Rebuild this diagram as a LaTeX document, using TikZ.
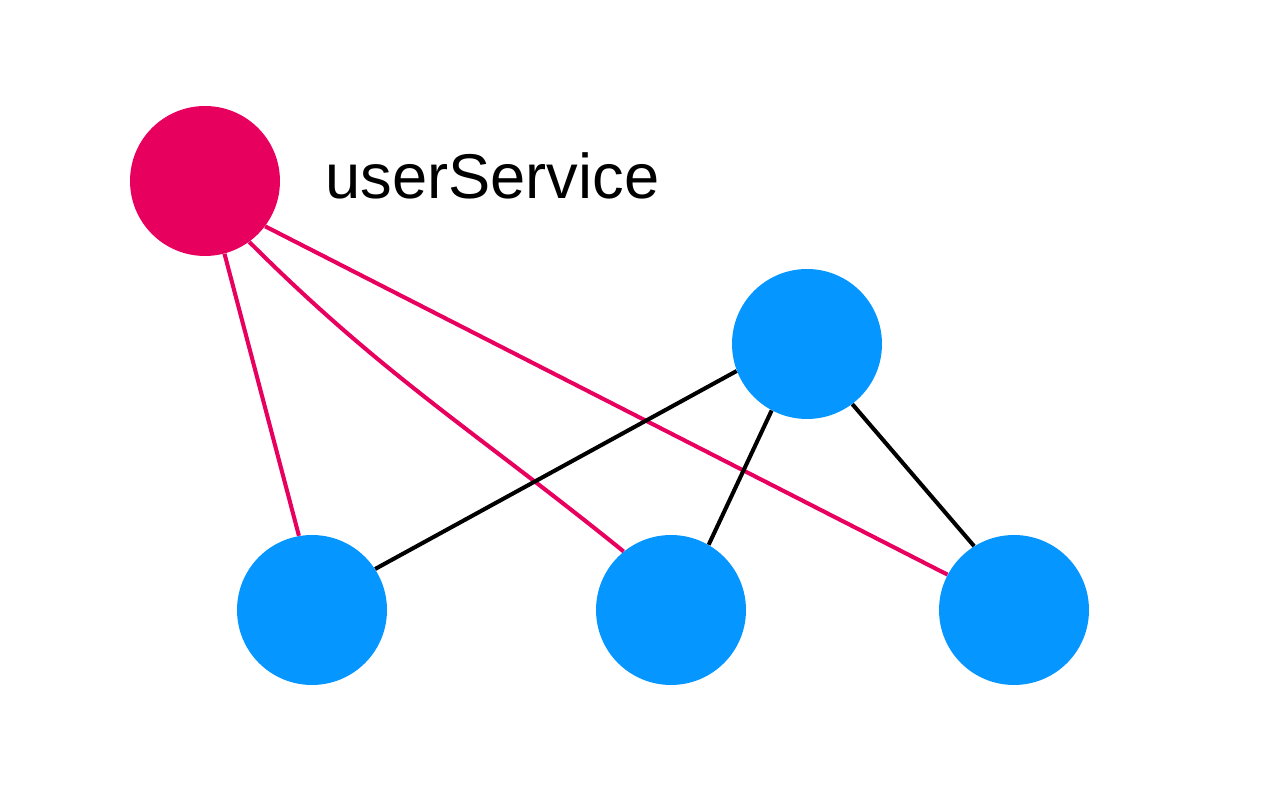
\documentclass[tikz,border=0pt]{standalone}
\usepackage{fontspec}
\newfontfamily\lblfont{Liberation Sans}
\definecolor{hotred}{HTML}{E8005F}
\definecolor{skyblue}{HTML}{0596FF}
\begin{document}
\begin{tikzpicture}[x=0.02cm,y=0.02cm,
  dot/.style={circle,minimum size=3cm,inner sep=0pt,draw=none},
  reddot/.style={dot,fill=hotred},
  bluedot/.style={dot,fill=skyblue},
  redline/.style={draw=hotred,line width=2.3pt},
  blackline/.style={draw=black,line width=2.3pt}]
\useasboundingbox (0,0) rectangle (1280,800);
\node[reddot] (R) at (205,619) {};
\node[bluedot] (T) at (807,456) {};
\node[bluedot] (BL) at (312,190) {};
\node[bluedot] (BM) at (671,190) {};
\node[bluedot] (BR) at (1014,190) {};
\node[anchor=base west,inner sep=0pt,font=\lblfont\fontsize{36}{43}\selectfont] (lbl) at (325,601) {userService};
\draw[redline] (R.-75) -- (BL.100);
\draw[redline] (R.-54) to[out=-45,in=141] (BM.129);
\draw[redline] (R.-37) -- (BR.152);
\draw[blackline] (T.-159) -- (BL.33);
\draw[blackline] (T.-118) -- (BM.60);
\draw[blackline] (T.-53) -- (BR.122);
\end{tikzpicture}
\end{document}
